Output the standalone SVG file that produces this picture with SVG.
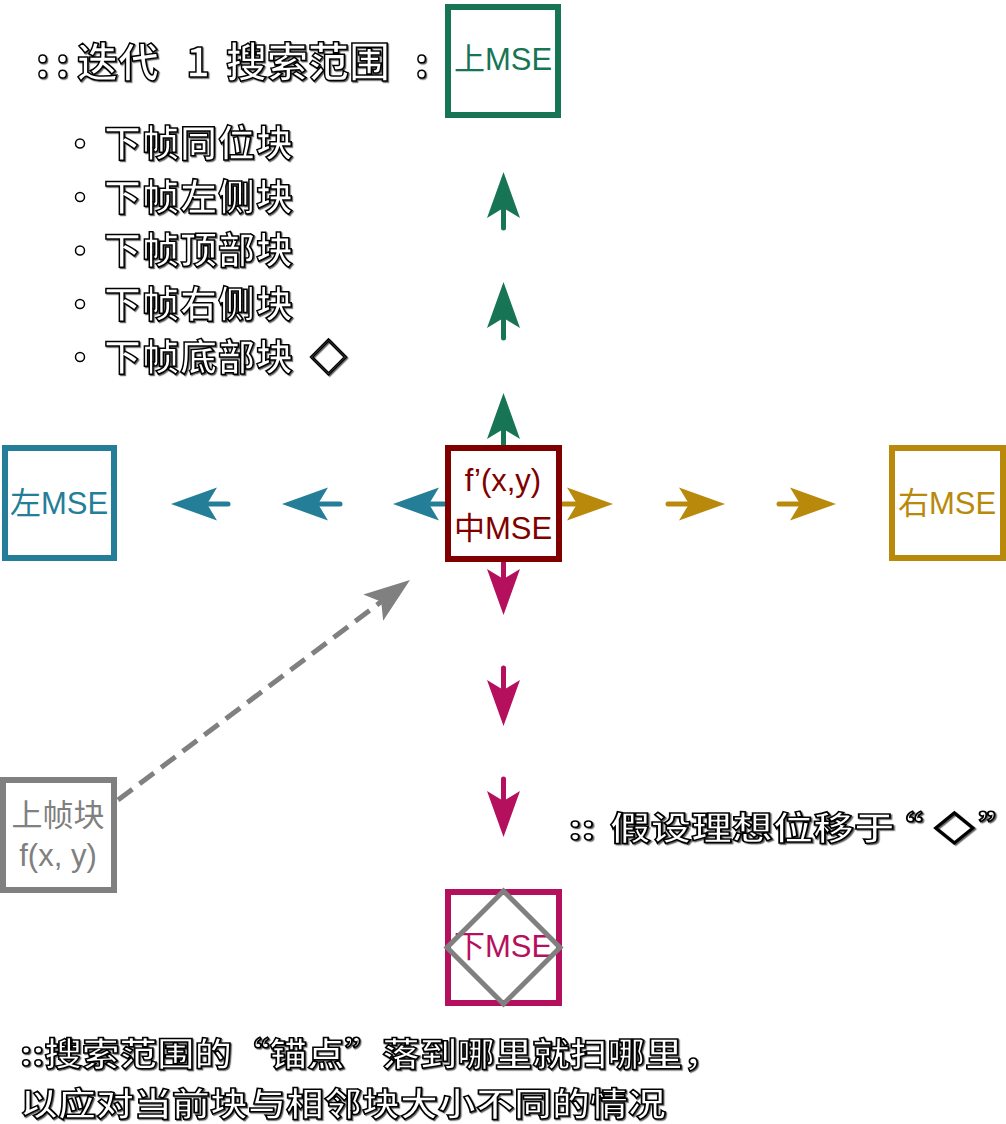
<svg xmlns="http://www.w3.org/2000/svg" width="1006" height="1124" viewBox="0 0 1006 1124">
<style>
.ol{font-family:"Noto Sans CJK SC","Noto Sans",sans-serif;font-weight:700;fill:#fff;stroke:#000;stroke-width:1.5;filter:url(#sh)}
.bx{fill:#fff;stroke-width:6}
.lb{font-family:"Liberation Sans","Noto Sans CJK SC",sans-serif;font-size:31px;text-anchor:middle}
.ar{stroke-width:5;stroke-linecap:round;fill:none}
.hw{font-feature-settings:"halt"}
</style>
<defs>
<filter id="sh" x="-5%" y="-20%" width="110%" height="140%">
<feDropShadow dx="1.2" dy="1.2" stdDeviation="0.3" flood-color="#000" flood-opacity="0.6"/>
</filter>
<marker id="mg" markerUnits="userSpaceOnUse" viewBox="0 -18 48 36" markerWidth="48" markerHeight="36" refX="26" refY="0" orient="auto" overflow="visible"><path d="M46,0 L0,-16.5 L10,0 L0,16.5 Z" fill="#177556"/></marker>
<marker id="mb" markerUnits="userSpaceOnUse" viewBox="0 -18 48 36" markerWidth="48" markerHeight="36" refX="26" refY="0" orient="auto" overflow="visible"><path d="M46,0 L0,-16.5 L10,0 L0,16.5 Z" fill="#247e97"/></marker>
<marker id="my" markerUnits="userSpaceOnUse" viewBox="0 -18 48 36" markerWidth="48" markerHeight="36" refX="26" refY="0" orient="auto" overflow="visible"><path d="M46,0 L0,-16.5 L10,0 L0,16.5 Z" fill="#b8890b"/></marker>
<marker id="mm" markerUnits="userSpaceOnUse" viewBox="0 -18 48 36" markerWidth="48" markerHeight="36" refX="26" refY="0" orient="auto" overflow="visible"><path d="M46,0 L0,-16.5 L10,0 L0,16.5 Z" fill="#b5105e"/></marker>
<marker id="mx" markerUnits="userSpaceOnUse" viewBox="0 -18 48 36" markerWidth="48" markerHeight="36" refX="26" refY="0" orient="auto" overflow="visible"><path d="M46,0 L0,-16.5 L10,0 L0,16.5 Z" fill="#808080"/></marker>
</defs>
<rect width="1006" height="1124" fill="#fff"/>

<g id="connectors">
<g stroke="#247e97" class="ar">
<line x1="228" y1="504" x2="191" y2="504" marker-end="url(#mb)"/>
<line x1="340" y1="504" x2="302" y2="504" marker-end="url(#mb)"/>
<line x1="448" y1="504" x2="413" y2="504" marker-end="url(#mb)"/>
</g>
<g stroke="#b8890b" class="ar">
<line x1="559" y1="504" x2="593" y2="504" marker-end="url(#my)"/>
<line x1="668" y1="504" x2="705" y2="504" marker-end="url(#my)"/>
<line x1="779" y1="504" x2="816" y2="504" marker-end="url(#my)"/>
</g>
<g stroke="#177556" class="ar">
<line x1="503.5" y1="228" x2="503.5" y2="192" marker-end="url(#mg)"/>
<line x1="503.5" y1="338" x2="503.5" y2="302" marker-end="url(#mg)"/>
<line x1="503.5" y1="448" x2="503.5" y2="413" marker-end="url(#mg)"/>
</g>
<g stroke="#b5105e" class="ar">
<line x1="503.5" y1="559" x2="503.5" y2="595" marker-end="url(#mm)"/>
<line x1="503.5" y1="668" x2="503.5" y2="706" marker-end="url(#mm)"/>
<line x1="503.5" y1="779" x2="503.5" y2="817" marker-end="url(#mm)"/>
</g>
<line x1="118" y1="800" x2="394" y2="592" stroke="#808080" stroke-width="5" stroke-dasharray="18 9" fill="none" marker-end="url(#mx)"/>
</g>

<g id="node-top">
<rect class="bx" x="448" y="7" width="110" height="108" stroke="#177556"/>
<text class="lb" x="503" y="70" fill="#177556">上MSE</text>
</g>
<g id="node-center">
<rect class="bx" x="448" y="448" width="111" height="111" stroke="#800000"/>
<text class="lb" x="503" y="491" fill="#800000" font-size="29">f’(x,y)</text>
<text class="lb" x="503" y="539" fill="#800000">中MSE</text>
</g>
<g id="node-left">
<rect class="bx" x="5" y="448" width="109" height="110" stroke="#247e97"/>
<text class="lb" x="59" y="514" fill="#247e97">左MSE</text>
</g>
<g id="node-right">
<rect class="bx" x="892" y="448" width="111" height="110" stroke="#b8890b"/>
<text class="lb" x="947" y="514" fill="#b8890b">右MSE</text>
</g>
<g id="node-bottom">
<rect class="bx" x="448" y="892" width="111" height="111" stroke="#b5105e"/>
<text class="lb" x="503" y="957" fill="#b5105e">下MSE</text>
<path d="M503.5,891 L560,947.5 L503.5,1004 L447,947.5 Z" fill="none" stroke="#808080" stroke-width="5"/>
</g>
<g id="node-prev">
<rect class="bx" x="3" y="780" width="111" height="110" stroke="#808080"/>
<text class="lb" x="58" y="826" fill="#808080" font-size="29">上帧块</text>
<text class="lb" x="58" y="866" fill="#808080" font-size="29">f(x, y)</text>
</g>

<g id="notes">
<text class="ol" font-size="41" y="77"><tspan x="36 56">::</tspan><tspan x="77">迭代 </tspan><tspan x="186">1 </tspan><tspan x="226">搜索范围</tspan><tspan x="415">:</tspan></text>
<g fill="#fff" stroke="#000" stroke-width="1.5">
<circle cx="80" cy="143.5" r="4.5"/>
<circle cx="80" cy="197" r="4.5"/>
<circle cx="80" cy="250.5" r="4.5"/>
<circle cx="80" cy="304" r="4.5"/>
<circle cx="80" cy="357" r="4.5"/>
</g>
<g font-size="37" letter-spacing="1">
<text class="ol" x="104" y="157">下帧同位块</text>
<text class="ol" x="104" y="211">下帧左侧块</text>
<text class="ol" x="104" y="264">下帧顶部块</text>
<text class="ol" x="104" y="318">下帧右侧块</text>
<text class="ol" x="104" y="371">下帧底部块 <tspan x="310">◇</tspan></text>
</g>
<text class="ol" font-size="33" y="840" transform="scale(1.233,1)"><tspan x="461">::</tspan><tspan x="494.7">假设理想位移于</tspan><tspan class="hw" x="732">“</tspan><tspan x="757.5">◇</tspan><tspan class="hw" x="793.5">”</tspan></text>
<text class="ol" font-size="33" x="20" y="1066" textLength="700" lengthAdjust="spacingAndGlyphs">::搜索范围的“锚点”落到哪里就扫哪里，</text>
<text class="ol" font-size="33" x="20" y="1116" textLength="646" lengthAdjust="spacingAndGlyphs">以应对当前块与相邻块大小不同的情况</text>
</g>
</svg>
